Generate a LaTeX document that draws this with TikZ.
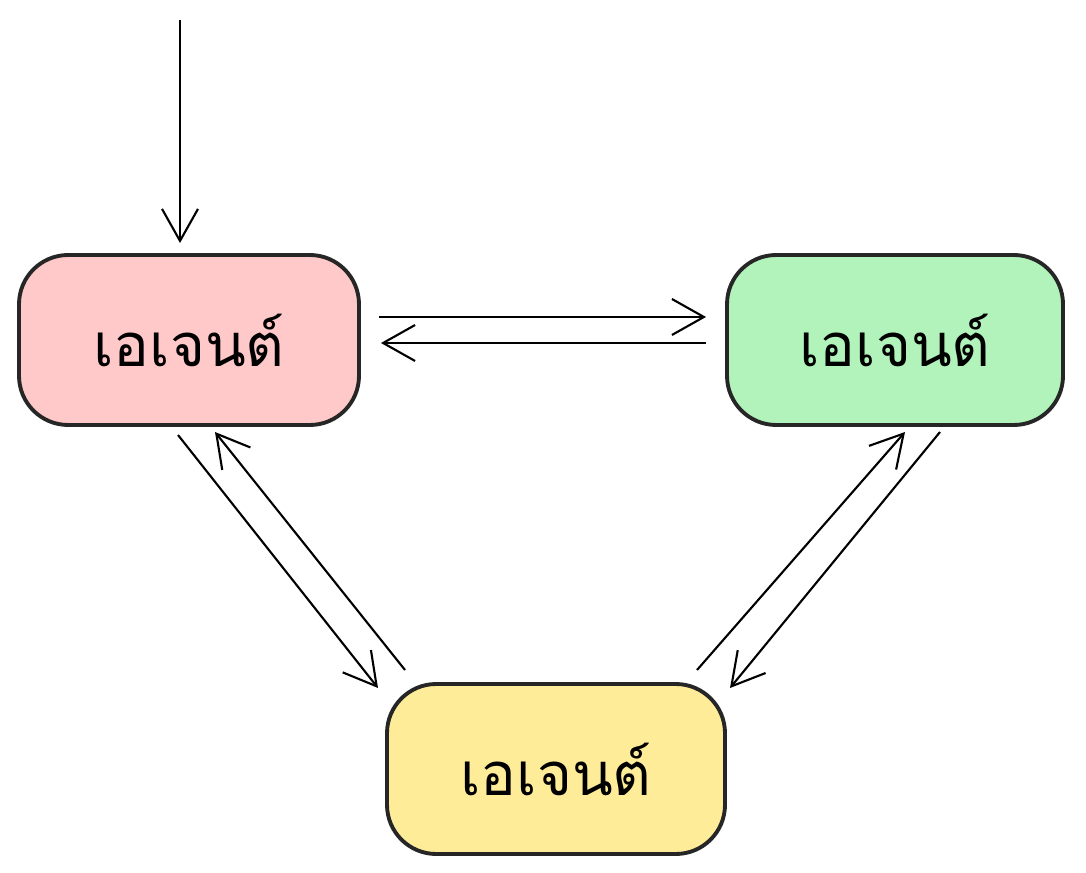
\documentclass[tikz,border=0pt]{standalone}
\usepackage{fontspec}
\newfontfamily\thaifont[Script=Thai]{Loma}
\usetikzlibrary{positioning, arrows.meta}
\definecolor{redfill}{HTML}{FFC9C9}
\definecolor{greenfill}{HTML}{B2F2BB}
\definecolor{yellowfill}{HTML}{FFEC99}
\tikzstyle{agent}=[draw=black!85, line width=1.1pt, rounded corners=14pt, minimum width=3.4cm, minimum height=1.7cm, font=\thaifont\fontsize{17}{20}\selectfont]
\tikzset{>={Straight Barb[length=3.2mm, width=3.6mm]}}

\begin{document}
\begin{tikzpicture}[x=1cm, y=-1cm]
\useasboundingbox (0,0) rectangle (10.86,8.73);
% the agents
\node[agent, fill=redfill] (A1) at (1.89, 3.40) {เอเจนต์};
\node[agent, fill=greenfill, minimum width=3.36cm] (A2) at (8.95, 3.40) {เอเจนต์};
\node[agent, fill=yellowfill, minimum width=3.38cm] (A3) at (5.56, 7.69) {เอเจนต์};
% the entry point
\coordinate (in) at (1.80, 0.20);
\draw[->, semithick] (in) -- ([yshift=1mm]A1.north -| in);
% the links
\draw[->, semithick] ([xshift=1.8mm, yshift=2.3mm]A1.east) -- ([xshift=-1.9mm, yshift=2.3mm]A2.west);
\draw[->, semithick] ([xshift=-1.9mm, yshift=-0.3mm]A2.west) -- ([xshift=2.0mm, yshift=-0.3mm]A1.east);
\draw[->, semithick] (1.78, 4.35) -- (3.78, 6.88);
\draw[->, semithick] (4.05, 6.70) -- (2.15, 4.32);
\draw[->, semithick] (6.97, 6.70) -- (9.05, 4.32);
\draw[->, semithick] (9.40, 4.32) -- (7.30, 6.88);
\end{tikzpicture}
\end{document}
